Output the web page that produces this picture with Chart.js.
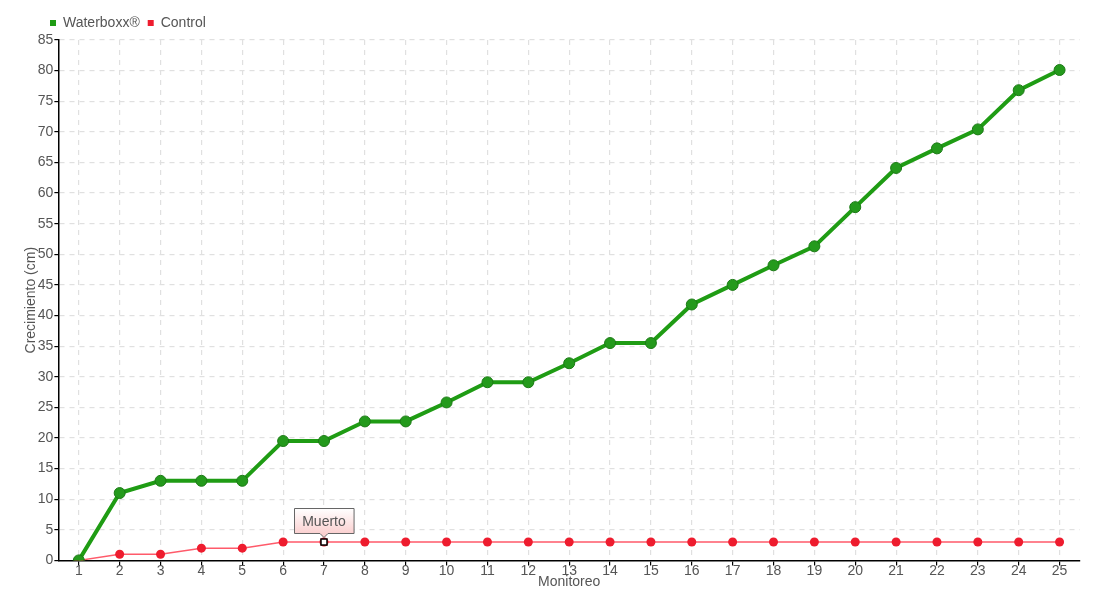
<!DOCTYPE html>
<html>
<head>
<meta charset="utf-8">
<script src="https://cdn.jsdelivr.net/npm/chart.js@4/dist/chart.umd.min.js"></script>
<style>
  html, body { margin: 0; padding: 0; background: #fff; }
  #wrap { width: 1100px; height: 600px; }
</style>
</head>
<body>
<div id="wrap"><canvas id="myChart" width="1100" height="600"></canvas></div>
<script>
// monitoring rounds
const monitoreos = ['1','2','3','4','5','6','7','8','9','10','11','12','13','14','15','16','17','18','19','20','21','22','23','24','25'];
// growth in cm
const waterboxx = [0, 11, 13, 13, 13, 19.5, 19.5, 22.7, 22.7, 25.8, 29.1, 29.1, 32.2, 35.5, 35.5, 41.8, 45, 48.2, 51.3, 57.7, 64.1, 67.3, 70.4, 76.8, 80.1];
const control = [0, 1, 1, 2, 2, 3, 3, 3, 3, 3, 3, 3, 3, 3, 3, 3, 3, 3, 3, 3, 3, 3, 3, 3, 3];
const yTicks = [0, 5, 10, 15, 20, 25, 30, 35, 40, 45, 50, 55, 60, 65, 70, 75, 80, 85];
const deadIndex = 6;   // point 7 of the control series
const deadLabel = 'Muerto';

const FONT = "'Liberation Sans', Arial, sans-serif";
Chart.defaults.font.family = FONT;
Chart.defaults.color = '#555';

// draws the "Muerto" note above the dead control point
const notePlugin = {
    id: 'note',
    beforeDraw(chart) {
        // legend sits a bit to the right, over the y axis
        if (chart.legend) chart.legend.left = 42;
    },
    afterDatasetsDraw(chart) {
        const pt = chart.getDatasetMeta(1).data[deadIndex];
        if (!pt) return;
        const ctx = chart.ctx;
        ctx.save();
        ctx.font = '14px ' + FONT;
        const w = ctx.measureText(deadLabel).width + 16;
        const h = 25;
        const x = Math.round(pt.x - w / 2) + 0.5;
        const y = Math.round(pt.y - 9 - h) + 0.5;
        const g = ctx.createLinearGradient(0, y, 0, y + h);
        g.addColorStop(0, '#ffffff');
        g.addColorStop(1, '#fbd0d0');
        ctx.beginPath();
        ctx.moveTo(x, y);
        ctx.lineTo(x + w, y);
        ctx.lineTo(x + w, y + h);
        ctx.lineTo(pt.x + 4, y + h);
        ctx.lineTo(pt.x, y + h + 4);
        ctx.lineTo(pt.x - 4, y + h);
        ctx.lineTo(x, y + h);
        ctx.closePath();
        ctx.fillStyle = g;
        ctx.fill();
        ctx.strokeStyle = '#666';
        ctx.lineWidth = 1;
        ctx.stroke();
        ctx.fillStyle = '#555';
        ctx.textAlign = 'center';
        ctx.textBaseline = 'middle';
        ctx.fillText(deadLabel, pt.x, y + h / 2 + 1);
        // marker of the dead point
        ctx.fillStyle = '#fff';
        ctx.strokeStyle = '#000';
        ctx.lineWidth = 1.5;
        ctx.fillRect(pt.x - 3, pt.y - 3, 6, 6);
        ctx.strokeRect(pt.x - 3, pt.y - 3, 6, 6);
        ctx.restore();
    }
};

const ctx = document.getElementById('myChart').getContext('2d');
const myChart = new Chart(ctx, {
    type: 'line',
    data: {
        labels: monitoreos,
        datasets: [{
            label: 'Waterboxx®',
            data: waterboxx,
            borderColor: '#1f9c14',
            backgroundColor: '#1f9c14',
            borderWidth: 4,
            pointRadius: 5.5,
            pointBackgroundColor: '#249a1c',
            pointBorderColor: '#1c7a16',
            pointBorderWidth: 1,
            tension: 0
        }, {
            label: 'Control',
            data: control,
            borderColor: '#ff5a6a',
            backgroundColor: '#ee1c2e',
            borderWidth: 1.5,
            pointRadius: 4.5,
            pointBackgroundColor: '#ee1c2e',
            pointBorderColor: '#ee1c2e',
            pointBorderWidth: 0,
            tension: 0
        }]
    },
    options: {
        responsive: false,
        animation: false,
        layout: { padding: { left: 23, right: 20, top: 8, bottom: 9 } },
        plugins: {
            legend: {
                display: true,
                position: 'top',
                align: 'start',
                labels: {
                    usePointStyle: true,
                    pointStyle: 'rect',
                    boxWidth: 6,
                    boxHeight: 6,
                    padding: 8,
                    color: '#555',
                    font: { size: 14 },
                    generateLabels(chart) {
                        return chart.data.datasets.map((ds, i) => ({
                            text: ds.label,
                            fillStyle: ds.backgroundColor,
                            strokeStyle: ds.backgroundColor,
                            lineWidth: 0,
                            pointStyle: 'rect',
                            fontColor: '#555',
                            datasetIndex: i
                        }));
                    }
                }
            },
            tooltip: { enabled: false }
        },
        scales: {
            x: {
                offset: true,
                grid: {
                    offset: false,
                    color: '#e0e0e0',
                    lineWidth: 1.2,
                    tickColor: '#000',
                    tickLength: 5
                },
                border: { color: '#000', width: 1.5, dash: [5, 5] },
                ticks: { color: '#555', font: { size: 14 }, padding: -3, maxRotation: 0, autoSkip: false },
                title: { display: true, text: 'Monitoreo', color: '#555', font: { size: 14 }, padding: { top: -2, bottom: 0 } }
            },
            y: {
                min: 0,
                max: 85,
                afterBuildTicks(axis) { axis.ticks = yTicks.map(v => ({ value: v })); },
                grid: {
                    color: '#e0e0e0',
                    lineWidth: 1.2,
                    tickColor: '#000',
                    tickLength: 4
                },
                border: { color: '#000', width: 1.5, dash: [5, 5] },
                ticks: { color: '#555', font: { size: 14 }, padding: 1 },
                title: { display: true, text: 'Crecimiento (cm)', color: '#555', font: { size: 14 }, padding: { top: 0, bottom: -3 } }
            }
        }
    },
    plugins: [notePlugin]
});
</script>
</body>
</html>
